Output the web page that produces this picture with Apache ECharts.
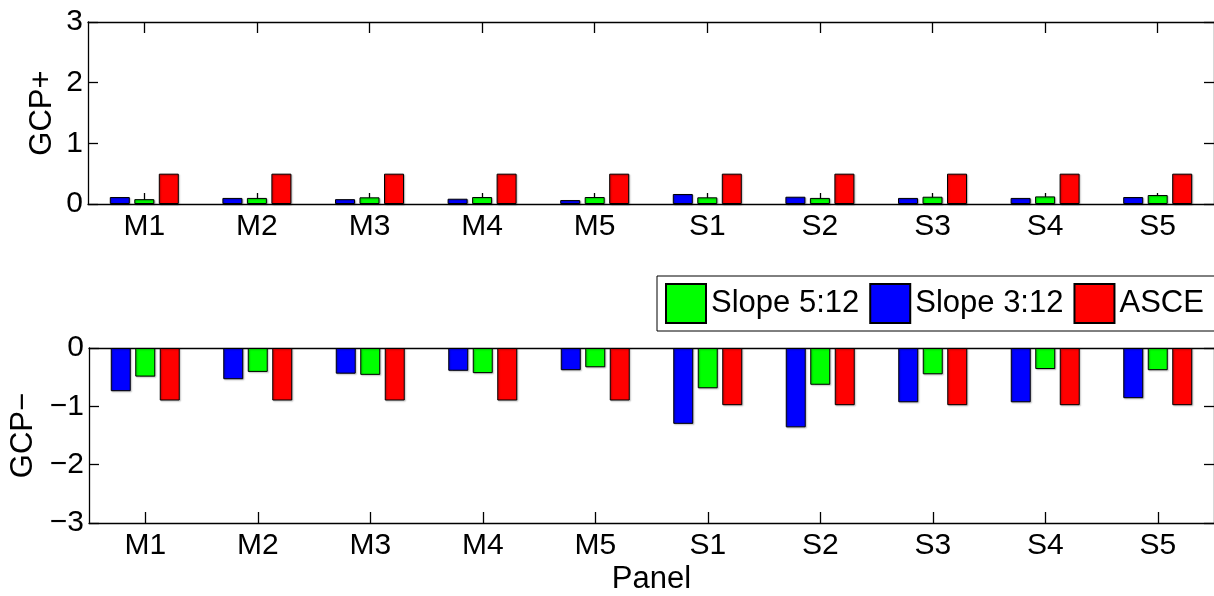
<!DOCTYPE html>
<html>
<head>
<meta charset="utf-8">
<script src="https://cdn.jsdelivr.net/npm/echarts@6/dist/echarts.min.js"></script>
<style>
html,body{margin:0;padding:0;background:#fff;}
#chart{width:1214px;height:596px;}
</style>
</head>
<body>
<div id="chart"></div>
<script>
const categories = ['M1','M2','M3','M4','M5','S1','S2','S3','S4','S5'];
const seriesNames = ['Slope 3:12','Slope 5:12','ASCE'];
const legendOrder = ['Slope 5:12','Slope 3:12','ASCE'];
const posSlope312 = [0.115, 0.10, 0.08, 0.087, 0.065, 0.165, 0.12, 0.10, 0.10, 0.115];
const posSlope512 = [0.08, 0.10, 0.11, 0.115, 0.115, 0.11, 0.10, 0.12, 0.125, 0.148];
const posASCE     = [0.5, 0.5, 0.5, 0.5, 0.5, 0.5, 0.5, 0.5, 0.5, 0.5];
const negSlope312 = [-0.74, -0.535, -0.44, -0.39, -0.38, -1.30, -1.36, -0.93, -0.93, -0.86];
const negSlope512 = [-0.49, -0.41, -0.46, -0.43, -0.33, -0.69, -0.63, -0.45, -0.36, -0.38];
const negASCE     = [-0.9, -0.9, -0.9, -0.9, -0.9, -0.98, -0.98, -0.98, -0.98, -0.98];
const yTitles = ['GCP+', 'GCP\u2212'];
const xTitle = 'Panel';

const FONT = "'Liberation Sans', Arial, Helvetica, sans-serif";
const colors = {'Slope 3:12':'#0000ff','Slope 5:12':'#00ff00','ASCE':'#ff0000'};
const lineStyle = {color:'#000', width:1.3};

function catAxis(gridIndex, position, showLabels, name){
  return {
    type:'category', gridIndex, position, data:categories,
    boundaryGap:true,
    axisLine:{show:true, onZero:false, lineStyle},
    axisTick:{show:true, inside:true, length:11, alignWithLabel:true, lineStyle},
    axisLabel:{show:showLabels, color:'#000', fontFamily:FONT, fontSize:30, margin:8},
    splitLine:{show:false},
    name: name || '', nameLocation:'middle', nameGap:41, nameMoveOverlap:false,
    nameTextStyle:{color:'#000', fontFamily:FONT, fontSize:31}
  };
}
function valAxis(gridIndex, position, min, max, showLabels, name, gap){
  return {
    type:'value', gridIndex, position, min, max, interval:1,
    axisLine:{show:true, onZero:false, lineStyle},
    axisTick:{show:true, inside:true, length:10, lineStyle},
    axisLabel:{show:showLabels, color:'#000', fontFamily:FONT, fontSize:30, margin:5,
      formatter: v => v < 0 ? '\u2212' + (-v) : String(v)},
    splitLine:{show:false},
    name: name || '', nameLocation:'middle', nameGap:gap || 30, nameRotate:90, nameMoveOverlap:false,
    nameTextStyle:{color:'#000', fontFamily:FONT, fontSize:31}
  };
}
function bars(name, data, xi, yi){
  return {
    type:'bar', name, data, xAxisIndex:xi, yAxisIndex:yi,
    barWidth:20, barGap:'22.5%',
    itemStyle:{color:colors[name], borderColor:'#000', borderWidth:1,
      shadowColor:'rgba(0,0,0,0.3)', shadowBlur:1.5, shadowOffsetX:1, shadowOffsetY:1},
    emphasis:{disabled:true}, animation:false
  };
}

const chart = echarts.init(document.getElementById('chart'));
chart.setOption({
  backgroundColor:'#fff',
  animation:false,
  textStyle:{fontFamily:FONT},
  grid:[
    {left:88, top:22, width:1130, height:182},
    {left:88, top:348, width:1130, height:182}
  ],
  xAxis:[
    catAxis(0,'bottom',true),
    catAxis(0,'top',false),
    catAxis(1,'bottom',true,xTitle),
    catAxis(1,'top',false)
  ],
  yAxis:[
    valAxis(0,'left',0,3,true,yTitles[0],30),
    valAxis(0,'right',0,3,false),
    valAxis(1,'left',-3,0,true,yTitles[1],50),
    valAxis(1,'right',-3,0,false)
  ],
  legend:{
    data:legendOrder, left:657, top:276, width:620, orient:'horizontal',
    padding:[7,24,7,8], itemWidth:40, itemHeight:39, itemGap:10,
    borderColor:'#000', borderWidth:1, backgroundColor:'#fff',
    icon:'rect', selectedMode:false,
    textStyle:{color:'#000', fontFamily:FONT, fontSize:31}
  },
  series:[
    bars(seriesNames[0], posSlope312, 0, 0),
    bars(seriesNames[1], posSlope512, 0, 0),
    bars(seriesNames[2], posASCE, 0, 0),
    bars(seriesNames[0], negSlope312, 2, 2),
    bars(seriesNames[1], negSlope512, 2, 2),
    bars(seriesNames[2], negASCE, 2, 2)
  ]
});
</script>
</body>
</html>
